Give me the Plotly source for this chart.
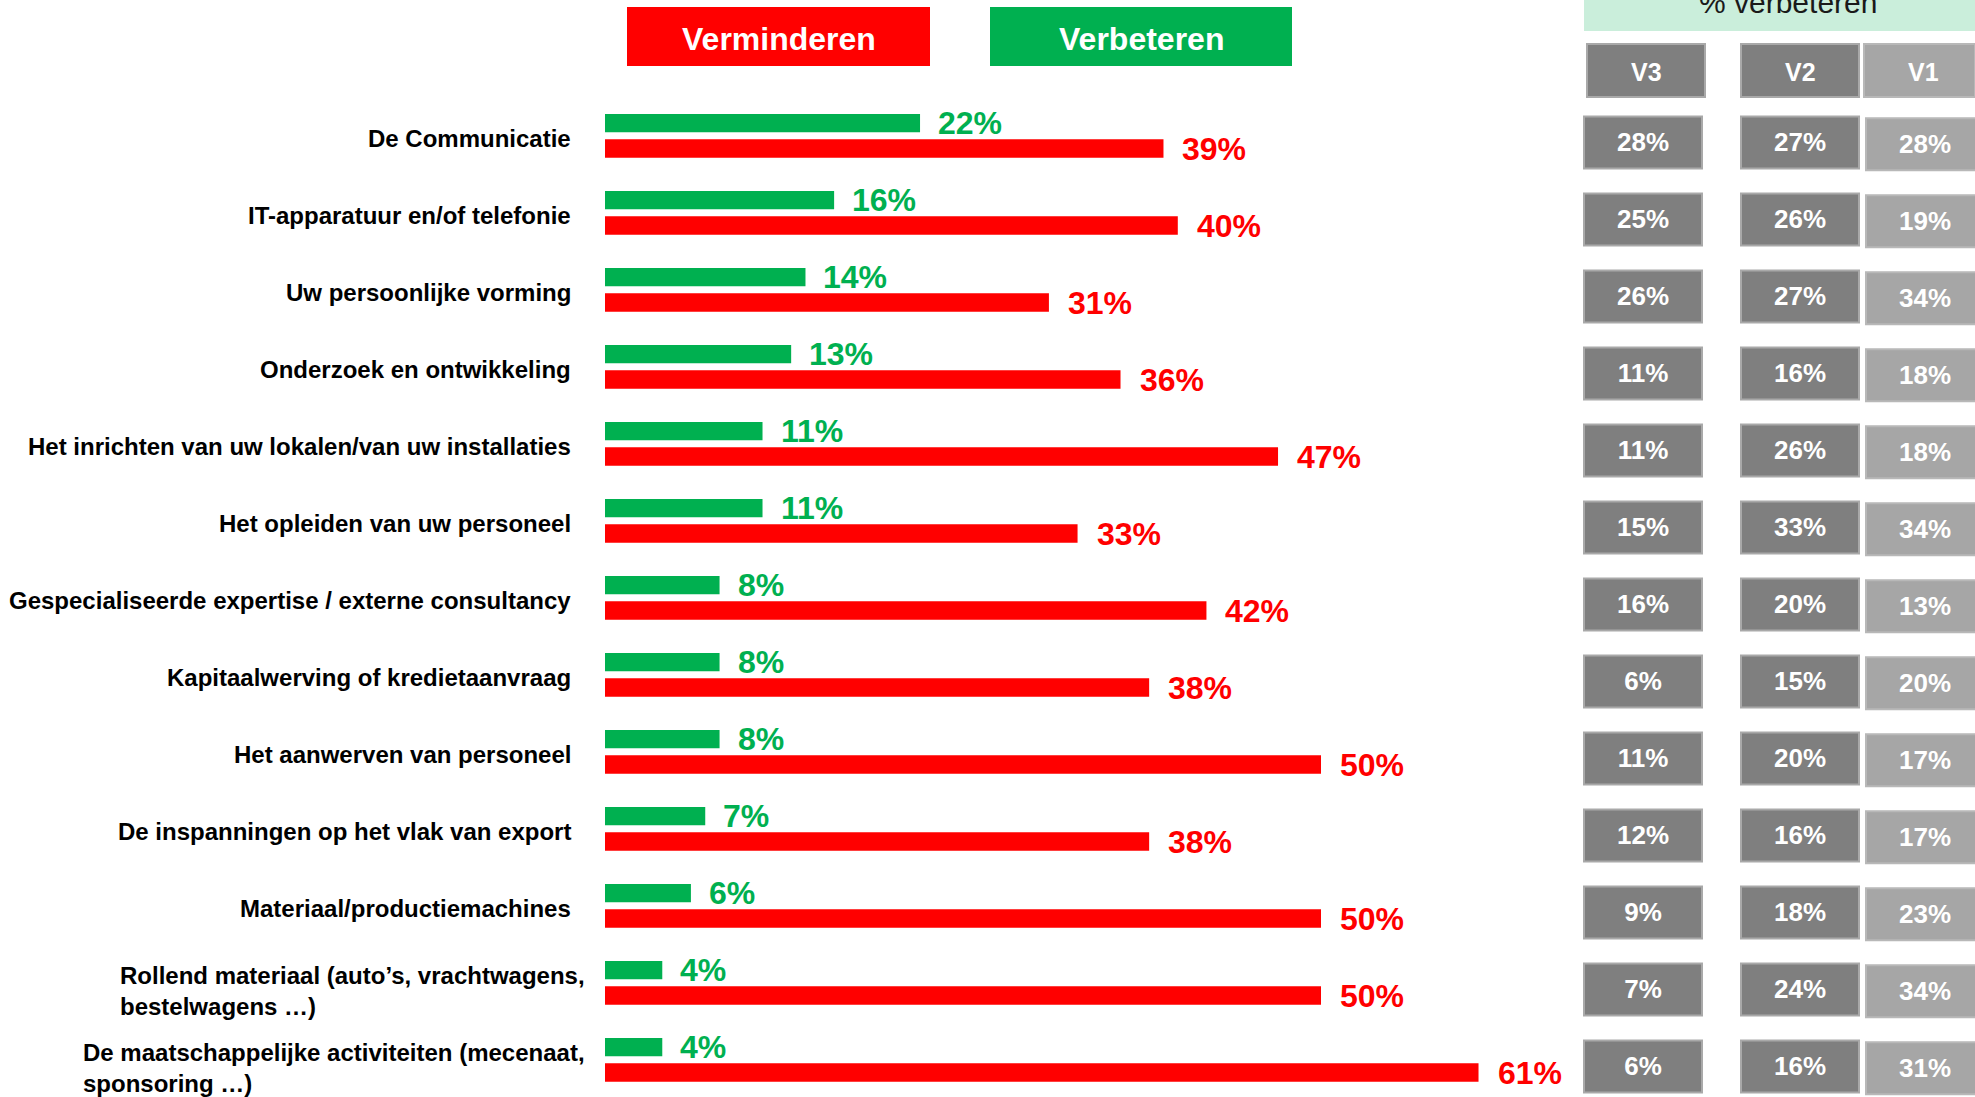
import plotly.graph_objects as go

# ---------------- data ----------------
categories = [
    "De Communicatie",
    "IT-apparatuur en/of telefonie",
    "Uw persoonlijke vorming",
    "Onderzoek en ontwikkeling",
    "Het inrichten van uw lokalen/van uw installaties",
    "Het opleiden van uw personeel",
    "Gespecialiseerde expertise / externe consultancy",
    "Kapitaalwerving of kredietaanvraag",
    "Het aanwerven van personeel",
    "De inspanningen op het vlak van export",
    "Materiaal/productiemachines",
    "Rollend materiaal (auto’s, vrachtwagens,<br>bestelwagens …)",
    "De maatschappelijke activiteiten (mecenaat,<br>sponsoring …)",
]
verbeteren = [22, 16, 14, 13, 11, 11, 8, 8, 8, 7, 6, 4, 4]
verminderen = [39, 40, 31, 36, 47, 33, 42, 38, 50, 38, 50, 50, 61]
v3 = [28, 25, 26, 11, 11, 15, 16, 6, 11, 12, 9, 7, 6]
v2 = [27, 26, 27, 16, 26, 33, 20, 15, 20, 16, 18, 24, 16]
v1 = [28, 19, 34, 18, 18, 34, 13, 20, 17, 17, 23, 34, 31]
wave_labels = ["V3", "V2", "V1"]

# ---------------- layout constants ----------------
W, H = 1975, 1097
FONT = "Liberation Sans, Arial, Helvetica, sans-serif"
GREEN = "#00b050"
RED = "#ff0000"
DARK = "#7f7f7f"
LIGHT = "#a6a6a6"
MINT = "#caeedb"

def px(x):
    return x / W

def py(y):
    return 1 - y / H

ZERO_PX = 605
PX_PER_PCT = 14.32
BAR_RIGHT_PX = 1560
ROW0_PX = 135.85
ROW_PITCH = 77.0
y_top = -ROW0_PX / ROW_PITCH
y_bot = y_top + H / ROW_PITCH

fig = go.Figure()

fig.add_trace(go.Bar(
    name="Verbeteren", y=categories, x=verbeteren, orientation="h",
    marker=dict(color=GREEN, line=dict(width=0)), xaxis="x", yaxis="y",
    hoverinfo="x+y",
))
fig.add_trace(go.Bar(
    name="Verminderen", y=categories, x=verminderen, orientation="h",
    marker=dict(color=RED, line=dict(width=0)), xaxis="x", yaxis="y",
    hoverinfo="x+y",
))

# right-hand table cells (drawn as bars on a pixel-unit axis)
col_left = {"V3": 1584, "V2": 1741, "V1": 1866}
col_width = 118
col_color = {"V3": DARK, "V2": DARK, "V1": LIGHT}
col_line = {"V3": "#a9a9a9", "V2": "#a9a9a9", "V1": "#b8b8b8"}
col_shift = {"V3": 0.085, "V2": 0.085, "V1": 0.11}
cell_h = 0.675
for lab, vals in zip(wave_labels, [v3, v2, v1]):
    fig.add_trace(go.Bar(
        name=lab, y=categories, x=[col_width] * len(vals),
        base=[col_left[lab]] * len(vals), orientation="h",
        xaxis="x2", yaxis="y",
        width=cell_h, offset=-cell_h / 2 + col_shift[lab],
        marker=dict(color=col_color[lab], line=dict(color=col_line[lab], width=2)),
        text=[f"<b>{v}%</b>" for v in vals], textposition="inside",
        insidetextanchor="middle", textangle=0,
        textfont=dict(family=FONT, size=26, color="white"),
        hovertext=[f"{lab}: {v}%" for v in vals], hoverinfo="text",
        showlegend=False,
    ))

annotations = []
# value labels next to bars
for cat, g, r in zip(categories, verbeteren, verminderen):
    annotations.append(dict(
        x=g, y=cat, xref="x", yref="y", xanchor="left", yanchor="middle",
        xshift=16, yshift=12.65, showarrow=False,
        text=f"<b>{g}%</b>", font=dict(family=FONT, size=32, color=GREEN),
    ))
    annotations.append(dict(
        x=r, y=cat, xref="x", yref="y", xanchor="left", yanchor="middle",
        xshift=17, yshift=-13.5, showarrow=False,
        text=f"<b>{r}%</b>", font=dict(family=FONT, size=32, color=RED),
    ))

# category labels
for cat in categories:
    multi = "<br>" in cat
    annotations.append(dict(
        x=px(587 if multi else 573), y=cat, xref="paper", yref="y",
        xanchor="right", yanchor="middle", align="left" if multi else "right",
        yshift=-8 if multi else -3, showarrow=False,
        text="<b>" + cat.replace("<br>", "</b><br><b>") + "</b>",
        font=dict(family=FONT, size=24, color="black"),
    ))

shapes = []
# top legend buttons
for (x0, x1, color, label) in [(627, 930, RED, "Verminderen"), (990, 1292, GREEN, "Verbeteren")]:
    shapes.append(dict(type="rect", xref="paper", yref="paper",
                       x0=px(x0), x1=px(x1), y0=py(66), y1=py(7),
                       fillcolor=color, line=dict(width=0), layer="above"))
    annotations.append(dict(x=px((x0 + x1) / 2), y=py(39), xref="paper", yref="paper",
                            xanchor="center", yanchor="middle", showarrow=False,
                            text=f"<b>{label}</b>",
                            font=dict(family=FONT, size=32, color="white")))

# "% verbeteren" header (cut at the top edge, as in the original)
shapes.append(dict(type="rect", xref="paper", yref="paper",
                   x0=px(1584), x1=1, y0=py(31), y1=1,
                   fillcolor=MINT, line=dict(width=0), layer="below"))
annotations.append(dict(x=px(1788), y=py(2), xref="paper", yref="paper",
                        xanchor="center", yanchor="middle", showarrow=False,
                        text="% verbeteren",
                        font=dict(family=FONT, size=30, color="#1a1a1a")))

# wave headers
for lab in wave_labels:
    x0 = col_left[lab] + (3 if lab == "V3" else (-2 if lab == "V1" else 0))
    x1 = min(x0 + col_width, W)
    shapes.append(dict(type="rect", xref="paper", yref="paper",
                       x0=px(x0), x1=px(x1), y0=py(97), y1=py(44),
                       fillcolor=col_color[lab], line=dict(color=col_line[lab], width=2),
                       layer="above"))
    annotations.append(dict(x=px(x0 + col_width / 2), y=py(72), xref="paper", yref="paper",
                            xanchor="center", yanchor="middle", showarrow=False,
                            text=f"<b>{lab}</b>",
                            font=dict(family=FONT, size=25, color="white")))

fig.update_layout(
    width=W, height=H, autosize=False,
    margin=dict(l=0, r=0, t=0, b=0, pad=0),
    paper_bgcolor="white", plot_bgcolor="rgba(0,0,0,0)",
    barmode="group", bargap=0.343, bargroupgap=0.2766,
    showlegend=False,
    xaxis=dict(domain=[px(ZERO_PX), px(BAR_RIGHT_PX)],
               range=[0, (BAR_RIGHT_PX - ZERO_PX) / PX_PER_PCT],
               visible=False, fixedrange=True),
    xaxis2=dict(domain=[px(1560), 1], range=[1560, W], anchor="y",
                visible=False, fixedrange=True),
    yaxis=dict(domain=[0, 1], type="category", categoryorder="array",
               categoryarray=categories, range=[y_bot, y_top],
               visible=False, fixedrange=True),
    annotations=annotations,
    shapes=shapes,
    font=dict(family=FONT),
)

fig.write_html("out.html", config={"displayModeBar": False},
               post_script="document.body.style.margin='0';document.body.style.overflow='hidden';")
